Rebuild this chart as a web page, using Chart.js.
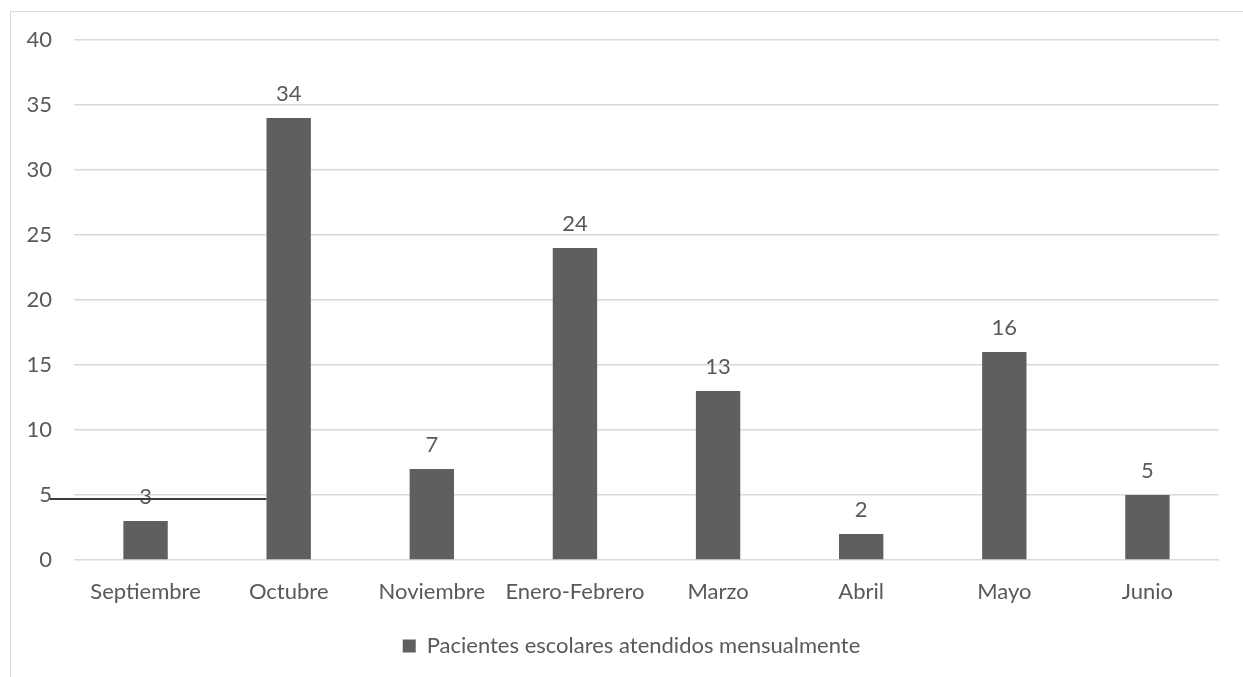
<!DOCTYPE html>
<html>
<head>
<meta charset="utf-8">
<script src="https://cdn.jsdelivr.net/npm/chart.js@4"></script>
<style>
  html, body { margin: 0; padding: 0; background: #fff; }
  #frame {
    position: absolute; left: 10px; top: 11px; width: 1240px; height: 670px;
    border-left: 1px solid #d9d9d9; border-top: 1px solid #d9d9d9;
  }
  #wrap { position: absolute; left: 0; top: 0; width: 1243px; height: 677px; }
</style>
</head>
<body>
<div id="frame"></div>
<div id="wrap"><canvas id="chart-1" width="1243" height="677"></canvas></div>
<script>
const months = ["Septiembre", "Octubre", "Noviembre", "Enero-Febrero", "Marzo", "Abril", "Mayo", "Junio"];
const pacientes = [3, 34, 7, 24, 13, 2, 16, 5];
const serieLabel = "Pacientes escolares atendidos mensualmente";
const yTicks = [0, 5, 10, 15, 20, 25, 30, 35, 40];

const fontFamily = "Lato, 'Open Sans', sans-serif";
const fontSize = 22;
const textColor = "#595959";

// etiquetas de datos sobre cada barra
const barLabels = {
  id: "barLabels",
  afterDatasetsDraw(chart) {
    const ctx = chart.ctx;
    const meta = chart.getDatasetMeta(0);
    ctx.save();
    ctx.font = fontSize + "px " + fontFamily;
    ctx.fillStyle = textColor;
    ctx.textAlign = "center";
    ctx.textBaseline = "alphabetic";
    meta.data.forEach((bar, i) => {
      ctx.fillText(String(pacientes[i]), bar.x, bar.y - 17);
    });
    ctx.restore();
  },
};

// linea negra que aparece en la imagen original a la altura del 5
const strayLine = {
  id: "strayLine",
  afterDatasetsDraw(chart) {
    const ctx = chart.ctx;
    const y = chart.scales.y.getPixelForValue(5) + 4;
    const bar = chart.getDatasetMeta(0).data[1];
    ctx.save();
    ctx.strokeStyle = "#3a3a3a";
    ctx.lineWidth = 2;
    ctx.beginPath();
    ctx.moveTo(chart.chartArea.left - 24, y);
    ctx.lineTo(bar.x - bar.width / 2, y);
    ctx.stroke();
    ctx.restore();
  },
};

// la leyenda del original esta algo mas a la derecha
const legendShift = {
  id: "legendShift",
  afterLayout(chart) {
    chart.legend.left += 17;
    chart.legend.right += 17;
  },
};

const ctx1 = document.getElementById("chart-1").getContext("2d");
const myChart = new Chart(ctx1, {
  type: "bar",
  data: {
    labels: months,
    datasets: [
      {
        label: serieLabel,
        data: pacientes,
        backgroundColor: "#5f5f5f",
        barPercentage: 0.31,
        categoryPercentage: 1,
      },
    ],
  },
  options: {
    responsive: false,
    animation: false,
    layout: { padding: { left: 10, right: 24, top: 40, bottom: 10 } },
    scales: {
      x: {
        grid: { display: false },
        border: { display: false },
        ticks: { color: textColor, font: { family: fontFamily, size: fontSize }, padding: 11, maxRotation: 0 },
        afterFit(scale) { scale.height = 65; },
      },
      y: {
        min: 0,
        max: 40,
        afterBuildTicks(scale) { scale.ticks = yTicks.map(v => ({ value: v })); },
        grid: { color: "#d9d9d9", lineWidth: 1.5, drawTicks: false },
        border: { display: false },
        ticks: { color: textColor, font: { family: fontFamily, size: fontSize }, padding: 22 },
        afterFit(scale) { scale.width = 64; },
      },
    },
    plugins: {
      legend: {
        position: "bottom",
        labels: {
          color: textColor,
          font: { family: fontFamily, size: fontSize },
          boxWidth: 13,
          boxHeight: 13,
          padding: 10,
        },
      },
      tooltip: { enabled: false },
    },
  },
  plugins: [barLabels, strayLine, legendShift],
});
</script>
</body>
</html>
